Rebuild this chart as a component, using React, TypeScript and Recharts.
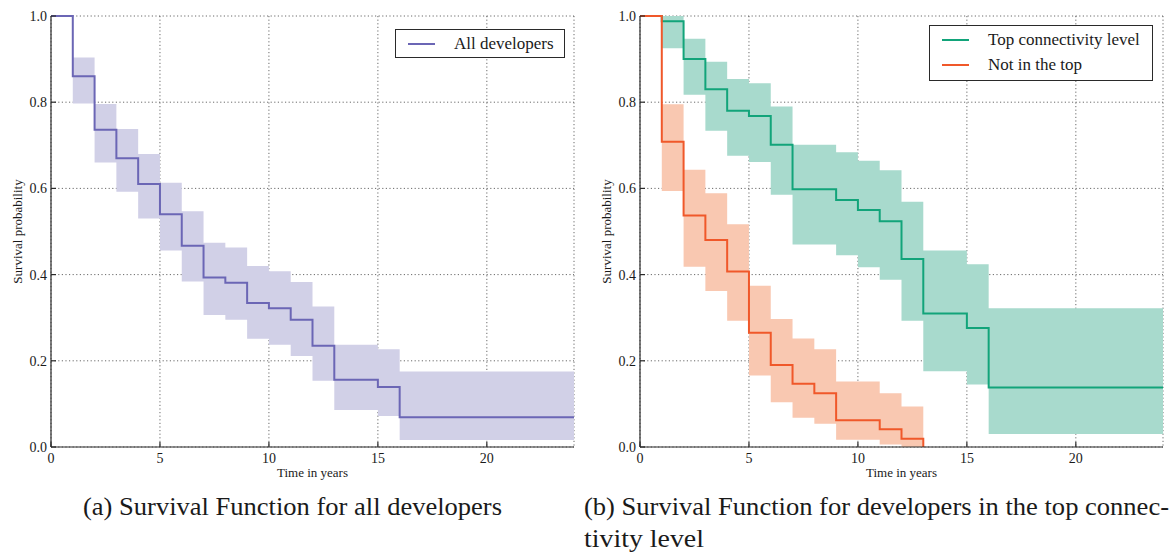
import React from 'react';
import { ComposedChart, Area, Line, XAxis, YAxis, CartesianGrid, Legend, Label } from 'recharts';

// Time points (years) where the Kaplan-Meier estimates change
const times = [0, 1, 2, 3, 4, 5, 6, 7, 8, 9, 10, 11, 12, 13, 15, 16, 24];

// (a) All developers
const allSurvival = [1, 0.86, 0.736, 0.67, 0.61, 0.54, 0.467, 0.393, 0.381, 0.334, 0.322, 0.295, 0.235, 0.156, 0.139, 0.069, 0.069];
const allLower = [1, 0.797, 0.66, 0.592, 0.53, 0.456, 0.384, 0.306, 0.295, 0.251, 0.237, 0.211, 0.154, 0.086, 0.072, 0.016, 0.016];
const allUpper = [1, 0.904, 0.796, 0.738, 0.68, 0.613, 0.547, 0.474, 0.463, 0.42, 0.408, 0.383, 0.326, 0.237, 0.227, 0.175, 0.175];

// (b) Top connectivity level
const topSurvival = [1, 0.988, 0.9, 0.83, 0.78, 0.768, 0.701, 0.598, 0.598, 0.573, 0.55, 0.524, 0.436, 0.31, 0.276, 0.138, 0.138];
const topLower = [1, 0.925, 0.817, 0.734, 0.676, 0.661, 0.585, 0.47, 0.47, 0.445, 0.417, 0.388, 0.293, 0.176, 0.145, 0.03, 0.03];
const topUpper = [1, 1, 0.947, 0.894, 0.854, 0.844, 0.79, 0.701, 0.701, 0.684, 0.664, 0.642, 0.569, 0.456, 0.424, 0.322, 0.322];

// (b) Not in the top
const notTopSurvival: (number | null)[] = [1, 0.708, 0.537, 0.48, 0.407, 0.265, 0.19, 0.147, 0.125, 0.062, 0.062, 0.041, 0.019, 0, null, null, null];
const notTopLower: (number | null)[] = [1, 0.594, 0.418, 0.362, 0.293, 0.166, 0.104, 0.068, 0.054, 0.017, 0.017, 0.006, 0, 0, null, null, null];
const notTopUpper: (number | null)[] = [1, 0.795, 0.643, 0.589, 0.517, 0.374, 0.297, 0.252, 0.227, 0.152, 0.152, 0.125, 0.094, 0, null, null, null];

const xTicks = [0, 5, 10, 15, 20];
const yTicks = [0, 0.2, 0.4, 0.6, 0.8, 1.0];
const groupNames = ['Top connectivity level', 'Not in the top'];

const allData = times.map((t, i) => ({
  t,
  s: allSurvival[i],
  ci: [allLower[i], allUpper[i]],
}));

const groupData = times.map((t, i) => ({
  t,
  top: topSurvival[i],
  topCi: [topLower[i], topUpper[i]],
  not: notTopSurvival[i],
  notCi: notTopSurvival[i] == null ? null : [notTopLower[i], notTopUpper[i]],
}));

const FONT = "'Liberation Serif', 'Times New Roman', Times, 'DejaVu Serif', serif";
const TEXT = '#1a1a1a';
const FRAME = '#2a2a2a';

const PURPLE = '#6b66b5';
const PURPLE_BAND = '#d1d0e7';
const GREEN = '#12a47a';
const GREEN_BAND = '#a8dacd';
const ORANGE = '#f0582a';
const ORANGE_BAND = '#f9c8b1';

const tickStyle = { fontSize: 14, fill: TEXT, fontFamily: FONT };

const yLabel = (props: any) => {
  const vb = props.viewBox || { x: 0, y: 16, width: 51, height: 431 };
  const cx = vb.x + 17;
  const cy = vb.y + vb.height / 2;
  return (
    <text
      x={cx}
      y={cy}
      transform={`rotate(-90, ${cx}, ${cy})`}
      textAnchor="middle"
      dominantBaseline="central"
      fontSize={13}
      fill={TEXT}
      style={{ fontFamily: FONT }}
    >
      Survival probability
    </text>
  );
};

const makeLegend = (w: number, h: number, order: string[]) => (props: any) => {
  const items = (props.payload || [])
    .filter((p: any) => p.type !== 'none')
    .slice()
    .sort((a: any, b: any) => order.indexOf(a.value) - order.indexOf(b.value));
  return (
    <div
      style={{
        position: 'relative',
        width: w,
        height: h,
        border: `1px solid ${FRAME}`,
        background: '#fff',
        boxSizing: 'border-box',
        fontFamily: FONT,
      }}
    >
      {items.map((p: any, i: number) => (
        <div key={i} style={{ position: 'absolute', left: 0, top: 3 + i * 25, height: 22, width: '100%' }}>
          <div
            style={{
              position: 'absolute',
              left: 12,
              top: 10,
              width: 27,
              height: 0,
              borderTop: `2px solid ${p.color}`,
            }}
          />
          <span
            style={{
              position: 'absolute',
              left: 58,
              top: 0,
              fontSize: 17,
              lineHeight: '22px',
              color: TEXT,
              whiteSpace: 'nowrap',
              fontFamily: FONT,
            }}
          >
            {p.value}
          </span>
        </div>
      ))}
    </div>
  );
};

export default function App() {
  return (
    <div style={{ position: 'absolute', left: 0, top: 0, width: 1173, height: 554, overflow: 'hidden', background: '#fff', fontFamily: FONT }}>
      <div style={{ position: 'absolute', left: 0, top: 0 }}>
        <ComposedChart width={590} height={485} data={allData} margin={{ top: 16, right: 16, bottom: 0, left: 0 }} style={{ fontFamily: FONT }}>
          <CartesianGrid stroke="#444" strokeWidth={0.8} strokeDasharray="1.2 2.4" />
          <XAxis
            dataKey="t"
            type="number"
            domain={[0, 24]}
            ticks={xTicks}
            allowDataOverflow
            height={38}
            tick={tickStyle}
            tickSize={-5}
            tickMargin={11}
            stroke={FRAME}
            strokeWidth={1.2}
          >
            <Label value="Time in years" position="insideBottom" offset={8} fontSize={13} fill={TEXT} style={{ fontFamily: FONT }} />
          </XAxis>
          <XAxis xAxisId="top" dataKey="t" type="number" domain={[0, 24]} ticks={xTicks} orientation="top" height={0} tick={false} tickSize={-5} stroke={FRAME} strokeWidth={1.2} />
          <YAxis
            type="number"
            domain={[0, 1]}
            ticks={yTicks}
            width={51}
            tick={tickStyle}
            tickFormatter={(v: number) => v.toFixed(1)}
            tickSize={-5}
            tickMargin={9}
            stroke={FRAME}
            strokeWidth={1.2}
          >
            <Label content={yLabel} />
          </YAxis>
          <YAxis yAxisId="right" type="number" domain={[0, 1]} ticks={yTicks} orientation="right" width={0} tick={false} tickSize={-5} stroke={FRAME} strokeWidth={1.2} />
          <Area dataKey="ci" type="stepAfter" stroke="none" fill={PURPLE_BAND} fillOpacity={1} isAnimationActive={false} legendType="none" />
          <Line dataKey="s" name="All developers" type="stepAfter" stroke={PURPLE} strokeWidth={2} dot={false} activeDot={false} isAnimationActive={false} />
          <Legend
            layout="horizontal"
            verticalAlign="middle"
            align="center"
            wrapperStyle={{ left: 395, top: 29, width: 170, height: 29 }}
            content={makeLegend(170, 29, ['All developers'])}
          />
        </ComposedChart>
      </div>
      <div style={{ position: 'absolute', left: 589, top: 0 }}>
        <ComposedChart width={584} height={485} data={groupData} margin={{ top: 16, right: 10, bottom: 0, left: 0 }} style={{ fontFamily: FONT }}>
          <CartesianGrid stroke="#444" strokeWidth={0.8} strokeDasharray="1.2 2.4" />
          <XAxis
            dataKey="t"
            type="number"
            domain={[0, 24]}
            ticks={xTicks}
            allowDataOverflow
            height={38}
            tick={tickStyle}
            tickSize={-5}
            tickMargin={11}
            stroke={FRAME}
            strokeWidth={1.2}
          >
            <Label value="Time in years" position="insideBottom" offset={8} fontSize={13} fill={TEXT} style={{ fontFamily: FONT }} />
          </XAxis>
          <XAxis xAxisId="top" dataKey="t" type="number" domain={[0, 24]} ticks={xTicks} orientation="top" height={0} tick={false} tickSize={-5} stroke={FRAME} strokeWidth={1.2} />
          <YAxis
            type="number"
            domain={[0, 1]}
            ticks={yTicks}
            width={51}
            tick={tickStyle}
            tickFormatter={(v: number) => v.toFixed(1)}
            tickSize={-5}
            tickMargin={9}
            stroke={FRAME}
            strokeWidth={1.2}
          >
            <Label content={yLabel} />
          </YAxis>
          <YAxis yAxisId="right" type="number" domain={[0, 1]} ticks={yTicks} orientation="right" width={0} tick={false} tickSize={-5} stroke={FRAME} strokeWidth={1.2} />
          <Area dataKey="topCi" type="stepAfter" stroke="none" fill={GREEN_BAND} fillOpacity={1} isAnimationActive={false} legendType="none" />
          <Area dataKey="notCi" type="stepAfter" stroke="none" fill={ORANGE_BAND} fillOpacity={1} isAnimationActive={false} legendType="none" />
          <Line dataKey="top" name={groupNames[0]} type="stepAfter" stroke={GREEN} strokeWidth={2} dot={false} activeDot={false} isAnimationActive={false} />
          <Line dataKey="not" name={groupNames[1]} type="stepAfter" stroke={ORANGE} strokeWidth={2} dot={false} activeDot={false} isAnimationActive={false} />
          <Legend
            layout="horizontal"
            verticalAlign="middle"
            align="center"
            wrapperStyle={{ left: 340, top: 25, width: 224, height: 56 }}
            content={makeLegend(224, 56, groupNames)}
          />
        </ComposedChart>
      </div>
      <svg width={1173} height={554} style={{ position: 'absolute', left: 0, top: 0, pointerEvents: 'none', fontFamily: FONT }}>
        <text x={83} y={515} fontSize={25} fill={TEXT} style={{ fontFamily: FONT }} textLength={419} lengthAdjust="spacingAndGlyphs">
          (a) Survival Function for all developers
        </text>
        <text x={584} y={515} fontSize={25} fill={TEXT} style={{ fontFamily: FONT }} textLength={585} lengthAdjust="spacingAndGlyphs">
          (b) Survival Function for developers in the top connec-
        </text>
        <text x={584} y={547} fontSize={25} fill={TEXT} style={{ fontFamily: FONT }} textLength={120} lengthAdjust="spacingAndGlyphs">
          tivity level
        </text>
      </svg>
    </div>
  );
}
